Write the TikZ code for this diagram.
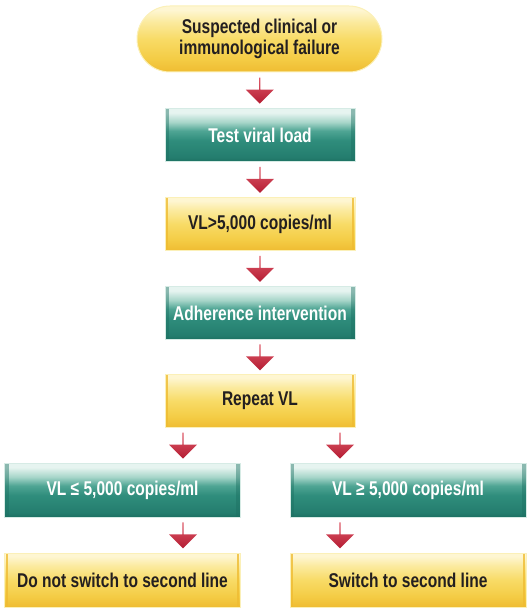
\documentclass[tikz,border=0pt]{standalone}
\usepackage{fontspec}
\setmainfont{Liberation Sans}[FakeStretch=0.78]
\usetikzlibrary{shapes.arrows,calc}
\definecolor{yA}{HTML}{EFBC32}
\definecolor{yB}{HTML}{F4CC45}
\definecolor{yC}{HTML}{F8DB66}
\definecolor{yD}{HTML}{FBEA9E}
\definecolor{yE}{HTML}{FEF6D2}
\definecolor{ylight}{HTML}{FBF0B8}
\definecolor{tA}{HTML}{1C7062}
\definecolor{tB}{HTML}{247D6E}
\definecolor{tC}{HTML}{2F8D7C}
\definecolor{tD}{HTML}{4FA594}
\definecolor{tE}{HTML}{A6D5C9}
\definecolor{tF}{HTML}{E6F4F0}
\definecolor{tedge}{HTML}{D6EBE5}
\definecolor{rlight}{HTML}{DF5A69}
\definecolor{rdark}{HTML}{B41D33}
\definecolor{txt}{HTML}{231F20}
\pgfdeclareverticalshading{yshade}{100bp}{color(0bp)=(yA); color(25bp)=(yA); color(35bp)=(yB); color(50bp)=(yC); color(63bp)=(yD); color(72bp)=(yE); color(100bp)=(yE)}
\pgfdeclareverticalshading{tshade}{100bp}{color(0bp)=(tA); color(25bp)=(tA); color(29bp)=(tB); color(45bp)=(tC); color(54bp)=(tD); color(62bp)=(tE); color(71bp)=(tF); color(100bp)=(tF)}
\tikzset{
  boxfont/.style={font=\fontsize{20}{21}\selectfont\bfseries},
  ybox/.style={rectangle, inner sep=0pt, minimum width=190bp, minimum height=53bp,
    shading=yshade, draw=ylight, line width=1bp, boxfont, text=txt,
    path picture={
      \draw[yA, line width=2.5bp, opacity=0.8]
        ([xshift=2bp]path picture bounding box.north west) -- ([xshift=2bp]path picture bounding box.south west)
        ([xshift=-2bp]path picture bounding box.north east) -- ([xshift=-2bp]path picture bounding box.south east);}},
  tbox/.style={rectangle, inner sep=0pt, minimum width=190bp, minimum height=53bp,
    shading=tshade, draw=tedge, line width=1bp, boxfont, text=white,
    path picture={
      \draw[tA, line width=4bp, opacity=0.45]
        ([xshift=2bp]path picture bounding box.north west) -- ([xshift=2bp]path picture bounding box.south west)
        ([xshift=-2bp]path picture bounding box.north east) -- ([xshift=-2bp]path picture bounding box.south east);}},
  rarrow/.style={single arrow, shape border rotate=270, inner sep=0pt,
    minimum height=26bp, minimum width=28bp, single arrow head extend=5bp,
    single arrow tip angle=90, top color=rlight, bottom color=rdark, draw=none}
}
\begin{document}
\begin{tikzpicture}[x=1bp,y=-1bp]
\useasboundingbox (0,0) rectangle (531,610);
\node[ybox, rounded corners=33bp, minimum width=245bp, minimum height=66bp, align=center, path picture={}] (pill) at (259.5,39)
  {Suspected clinical or\\immunological failure};
\node[tbox] (test) at (260,135) {Test viral load};
\node[ybox] (vl) at (260,224) {VL>5,000 copies/ml};
\node[tbox] (adh) at (260,313) {Adherence intervention};
\node[ybox] (rep) at (260,401) {Repeat VL};
\node[tbox, minimum width=235bp, minimum height=54bp] (vll) at (122.5,490) {VL ≤ 5,000 copies/ml};
\node[tbox, minimum width=236bp, minimum height=54bp] (vlg) at (408,490) {VL ≥ 5,000 copies/ml};
\node[ybox, minimum width=235bp, minimum height=54bp] (dn) at (122.5,580) {Do not switch to second line};
\node[ybox, minimum width=236bp, minimum height=54bp] (sw) at (408,580) {Switch to second line};
\coordinate (lx) at (183,0);
\coordinate (rx) at (340,0);
\path (pill.south) -- (test.north) node[midway,rarrow]{};
\path (test.south) -- (vl.north) node[midway,rarrow]{};
\path (vl.south) -- (adh.north) node[midway,rarrow]{};
\path (adh.south) -- (rep.north) node[midway,rarrow]{};
\path (rep.south -| lx) -- (vll.north -| lx) node[midway,rarrow]{};
\path (rep.south -| rx) -- (vlg.north -| rx) node[midway,rarrow]{};
\path (vll.south -| lx) -- (dn.north -| lx) node[midway,rarrow]{};
\path (vlg.south -| rx) -- (sw.north -| rx) node[midway,rarrow]{};
\end{tikzpicture}
\end{document}
